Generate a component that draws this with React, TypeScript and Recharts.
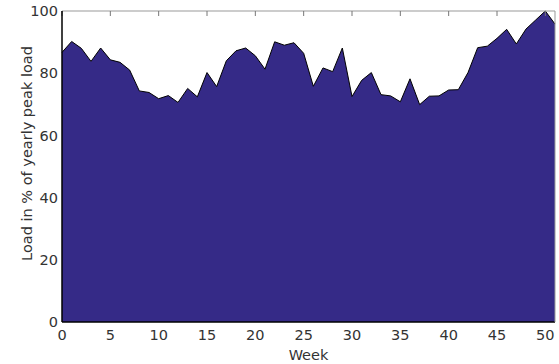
import { AreaChart, Area, XAxis, YAxis } from "recharts";

// Weekly load, % of yearly peak (weeks 0..51)
const WEEKS = Array.from({ length: 52 }, (_, i) => i);
const LOAD = [
  86.7, 90.2, 88.0, 83.8, 88.1, 84.3, 83.5, 81.0, 74.3, 73.8,
  71.8, 72.8, 70.6, 75.1, 72.4, 80.2, 75.7, 84.0, 87.2, 88.1,
  85.6, 81.3, 90.1, 89.0, 89.8, 86.4, 75.8, 81.7, 80.5, 88.1,
  72.5, 77.7, 80.2, 73.1, 72.7, 70.8, 78.2, 69.9, 72.6, 72.7,
  74.6, 74.7, 80.2, 88.2, 88.7, 91.2, 94.1, 89.4, 94.2, 97.1,
  100.0, 95.8,
];
const X_TICKS = [0, 5, 10, 15, 20, 25, 30, 35, 40, 45, 50];
const Y_TICKS = [0, 20, 40, 60, 80, 100];

const FONT = "'DejaVu Sans', Verdana, sans-serif";
const TEXT = "#333";
const FS = 14.5;

const data = WEEKS.map((w, i) => ({ week: w, load: LOAD[i] }));

// empty tick label, keeps the tick lines
const NoLabel = () => <g />;

export default function App() {
  const tick = { fill: TEXT, fontSize: FS, fontFamily: FONT };
  return (
    <div style={{ position: "absolute", left: 0, top: 0 }}>
      <AreaChart
        width={559}
        height={364}
        data={data}
        margin={{ top: 11, right: 4, bottom: 0, left: 0 }}
      >
        <Area
          type="linear"
          dataKey="load"
          fill="#352A87"
          fillOpacity={1}
          stroke="#000"
          strokeWidth={1}
          isAnimationActive={false}
        />
        <XAxis
          dataKey="week"
          type="number"
          domain={[0, 51]}
          ticks={X_TICKS}
          interval={0}
          height={42}
          tick={tick}
          tickLine={false}
          tickSize={5}
          tickMargin={3}
          axisLine={{ stroke: "#000", strokeWidth: 1.5 }}
          label={({ viewBox }: any) => (
            <text
              x={viewBox.x + viewBox.width / 2}
              y={viewBox.y + 38}
              textAnchor="middle"
              fill={TEXT}
              fontSize={FS}
              fontFamily={FONT}
            >
              Week
            </text>
          )}
        />
        <XAxis
          xAxisId="top"
          dataKey="week"
          type="number"
          orientation="top"
          mirror
          domain={[0, 51]}
          ticks={X_TICKS}
          interval={0}
          height={1}
          tick={NoLabel}
          tickSize={5}
          tickLine={{ stroke: "#777" }}
          axisLine={{ stroke: "#999" }}
        />
        <YAxis
          type="number"
          domain={[0, 100]}
          ticks={Y_TICKS}
          interval={0}
          width={62}
          tick={tick}
          tickLine={false}
          tickSize={2}
          tickMargin={2}
          axisLine={{ stroke: "#000", strokeWidth: 1.5 }}
          label={({ viewBox }: any) => {
            const x = viewBox.x + 27;
            const y = viewBox.y + viewBox.height / 2 - 13;
            return (
              <text
                x={x}
                y={y}
                transform={`rotate(-90, ${x}, ${y})`}
                textAnchor="middle"
                dominantBaseline="central"
                fill={TEXT}
                fontSize={FS}
                fontFamily={FONT}
              >
                Load in % of yearly peak load
              </text>
            );
          }}
        />
        <YAxis
          yAxisId="right"
          type="number"
          orientation="right"
          mirror
          domain={[0, 100]}
          ticks={Y_TICKS}
          interval={0}
          width={1}
          tick={NoLabel}
          tickSize={5}
          tickLine={{ stroke: "#777" }}
          axisLine={{ stroke: "#999" }}
        />
      </AreaChart>
    </div>
  );
}
